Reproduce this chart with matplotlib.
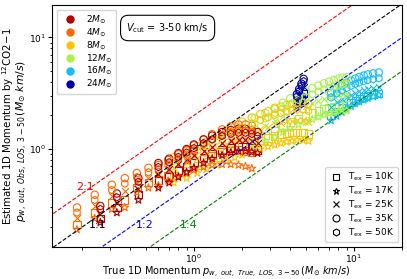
import numpy as np
import matplotlib.pyplot as plt
from matplotlib.lines import Line2D

# Tex order: 10K, 17K, 25K, 35K, 50K
tex_labels = ['10K', '17K', '25K', '35K', '50K']
tex_markers = ['s', '*', 'x', 'o', 'h']

mass_labels = ['2', '4', '8', '12', '16', '24']
mass_colors = ['#b00000', '#ff6a00', '#ffc400', '#a6f24a', '#14bdf5', '#0000a8']

x2 = [0.26, 0.33, 0.45, 0.60, 0.70, 0.80, 0.90, 1.00, 1.15, 1.30, 1.50, 1.70, 1.90, 2.10, 2.30, 2.50]
y2 = {'10K': [0.24, 0.30, 0.39, 0.52, 0.57, 0.64, 0.70, 0.76, 0.84, 0.91, 0.98, 1.02, 1.05, 1.05, 1.02, 0.98],
      '17K': [0.22, 0.27, 0.35, 0.45, 0.50, 0.56, 0.62, 0.68, 0.75, 0.82, 0.88, 0.93, 0.96, 0.96, 0.94, 0.92],
      '25K': [0.26, 0.33, 0.44, 0.60, 0.66, 0.74, 0.81, 0.88, 0.97, 1.05, 1.13, 1.18, 1.21, 1.21, 1.18, 1.13],
      '35K': [0.31, 0.40, 0.55, 0.75, 0.82, 0.92, 1.00, 1.10, 1.22, 1.32, 1.42, 1.48, 1.52, 1.52, 1.48, 1.42],
      '50K': [0.29, 0.37, 0.51, 0.69, 0.76, 0.85, 0.93, 1.02, 1.13, 1.22, 1.31, 1.37, 1.40, 1.40, 1.37, 1.31]}

x4 = [0.186, 0.24, 0.307, 0.37, 0.44, 0.52, 0.60, 0.69, 0.80, 0.90, 1.00, 1.15, 1.30, 1.50, 1.70, 1.90, 2.10, 2.30]
y4 = {'10K': [0.21, 0.27, 0.33, 0.35, 0.45, 0.50, 0.53, 0.58, 0.65, 0.70, 0.75, 0.82, 0.88, 0.94, 0.97, 0.98, 0.96, 0.93],
      '17K': [0.19, 0.24, 0.29, 0.30, 0.41, 0.45, 0.47, 0.52, 0.57, 0.61, 0.65, 0.69, 0.72, 0.73, 0.73, 0.72, 0.70, 0.67],
      '25K': [0.24, 0.31, 0.38, 0.42, 0.50, 0.55, 0.59, 0.65, 0.73, 0.79, 0.86, 0.96, 1.05, 1.14, 1.20, 1.23, 1.22, 1.18],
      '35K': [0.30, 0.39, 0.48, 0.55, 0.61, 0.68, 0.72, 0.80, 0.90, 0.98, 1.08, 1.22, 1.36, 1.50, 1.60, 1.66, 1.66, 1.62],
      '50K': [0.27, 0.35, 0.43, 0.49, 0.56, 0.62, 0.66, 0.73, 0.82, 0.89, 0.98, 1.10, 1.22, 1.34, 1.42, 1.47, 1.47, 1.43]}

x8 = [0.75, 0.90, 1.05, 1.20, 1.40, 1.60, 1.80, 2.00, 2.30, 2.60, 2.90, 3.20, 3.50, 3.80, 4.10, 4.40, 4.80, 5.20]
y8 = {'10K': [0.58, 0.64, 0.71, 0.77, 0.85, 0.92, 0.99, 1.06, 1.14, 1.20, 1.26, 1.31, 1.35, 1.38, 1.40, 1.41, 1.40, 1.36],
      '17K': [0.50, 0.55, 0.61, 0.66, 0.72, 0.78, 0.84, 0.89, 0.95, 1.00, 1.05, 1.09, 1.13, 1.16, 1.18, 1.20, 1.20, 1.18],
      '25K': [0.68, 0.76, 0.84, 0.92, 1.02, 1.12, 1.21, 1.31, 1.42, 1.51, 1.59, 1.66, 1.72, 1.77, 1.80, 1.83, 1.82, 1.76],
      '35K': [0.85, 0.96, 1.06, 1.17, 1.32, 1.46, 1.60, 1.76, 1.92, 2.06, 2.18, 2.30, 2.40, 2.48, 2.55, 2.60, 2.60, 2.52],
      '50K': [0.78, 0.88, 0.97, 1.06, 1.19, 1.31, 1.43, 1.56, 1.70, 1.82, 1.92, 2.02, 2.10, 2.17, 2.22, 2.26, 2.26, 2.19]}

x12 = [2.40, 2.80, 3.20, 3.60, 4.00, 4.50, 5.00, 5.50, 6.00, 6.50, 7.00, 7.50, 8.00, 8.50, 9.00]
y12 = {'10K': [1.20, 1.32, 1.47, 1.62, 1.75, 1.88, 1.99, 2.10, 2.20, 2.29, 2.36, 2.42, 2.47, 2.50, 2.50],
       '17K': [1.05, 1.15, 1.28, 1.42, 1.54, 1.65, 1.75, 1.85, 1.94, 2.02, 2.08, 2.13, 2.17, 2.20, 2.20],
       '25K': [1.45, 1.60, 1.78, 1.96, 2.13, 2.30, 2.44, 2.57, 2.70, 2.81, 2.90, 2.98, 3.05, 3.09, 3.10],
       '35K': [1.90, 2.10, 2.35, 2.60, 2.85, 3.10, 3.30, 3.50, 3.70, 3.88, 4.02, 4.15, 4.28, 4.36, 4.40],
       '50K': [1.70, 1.88, 2.10, 2.32, 2.53, 2.75, 2.92, 3.09, 3.26, 3.41, 3.53, 3.64, 3.74, 3.80, 3.83]}

x16 = [7.2, 7.8, 8.4, 9.0, 9.6, 10.2, 10.8, 11.5, 12.2, 13.2, 14.3]
y16 = {'10K': [2.00, 2.18, 2.34, 2.48, 2.60, 2.72, 2.82, 2.92, 3.00, 3.08, 3.15],
       '17K': [1.80, 1.98, 2.14, 2.28, 2.42, 2.55, 2.66, 2.76, 2.86, 2.95, 3.05],
       '25K': [2.40, 2.62, 2.80, 2.95, 3.08, 3.20, 3.30, 3.40, 3.48, 3.55, 3.62],
       '35K': [3.20, 3.50, 3.72, 3.92, 4.10, 4.28, 4.42, 4.55, 4.66, 4.76, 4.85],
       '50K': [2.90, 3.15, 3.35, 3.52, 3.68, 3.82, 3.94, 4.05, 4.14, 4.22, 4.30]}

x24 = [4.40, 4.55, 4.70, 4.85]
y24 = {'10K': [2.55, 2.75, 2.95, 3.15],
       '17K': [2.40, 2.55, 2.70, 2.85],
       '25K': [2.75, 3.00, 3.30, 3.60],
       '35K': [3.10, 3.45, 3.85, 4.25],
       '50K': [2.95, 3.30, 3.70, 4.05]}

ratios = [2.0, 1.0, 0.5, 0.25]
ratio_labels = ['2:1', '1:1', '1:2', '1:4']
ratio_colors = ['red', 'black', 'blue', 'green']
ratio_text_x = [0.209, 0.25, 0.49, 0.93]
ratio_text_y = [0.46, 0.21, 0.21, 0.21]

tracks = {'2': (x2, y2), '4': (x4, y4), '8': (x8, y8),
          '12': (x12, y12), '16': (x16, y16), '24': (x24, y24)}
draw_order = ['16', '12', '8', '4', '2', '24']

plt.rcParams['font.size'] = 7
fig = plt.figure(figsize=(4.07, 2.79), dpi=100)
ax = fig.add_axes([0.128, 0.115, 0.860, 0.867])

for tex, mk in zip(tex_labels, tex_markers):
    for m in draw_order:
        xs, ys = tracks[m]
        col = mass_colors[mass_labels.index(m)]
        if mk == 'x':
            ax.scatter(xs, ys[tex], s=24, marker=mk, color=col, linewidths=0.8)
        else:
            ax.scatter(xs, ys[tex], s=28 if mk != '*' else 34, marker=mk,
                       facecolors='none', edgecolors=col, linewidths=0.8)

line_x = np.array([0.1, 30])
for r, lab, c, tx, ty in zip(ratios, ratio_labels, ratio_colors, ratio_text_x, ratio_text_y):
    ax.plot(line_x, r * line_x, '--', color=c, lw=0.8)
    ax.text(tx, ty, lab, color=c, fontsize=8, ha='center', va='center')

ax.set_xscale('log')
ax.set_yscale('log')
ax.set_xlim(0.13, 20)
ax.set_ylim(0.133, 19.5)
ax.tick_params(which='major', labelsize=6.5, length=3, pad=1.5)
ax.tick_params(axis='x', which='major', pad=0.8)
ax.tick_params(which='minor', length=1.8)

ax.set_xlabel(r'True 1D Momentum $p_{w,\ out,\ True,\ LOS,\ 3-50}\,(M_{\odot}\ km/s)$',
              fontsize=7)
ax.xaxis.set_label_coords(0.499, -0.074)
fig.text(0.0197, 0.547, 'Estimated 1D Momentum by $^{12}$CO2$-$1', rotation=90,
         fontsize=7.4, ha='center', va='center')
fig.text(0.054, 0.494, r'$p_{w,\ out,\ Obs,\ LOS,\ 3-50}\,(M_{\odot}\ km/s)$', rotation=90,
         fontsize=7.8, ha='center', va='center')

ax.text(0.33, 0.905, r'$V_{\rm cut}$ = 3-50 km/s', transform=ax.transAxes, fontsize=7,
        ha='center', va='center',
        bbox=dict(boxstyle='round,pad=0.6,rounding_size=0.8', fc='white', ec='black', lw=0.8))

mass_handles = [Line2D([], [], marker='o', ls='none', color=c, markersize=5)
                for c in mass_colors]
leg1 = ax.legend(mass_handles, [m + r'$M_{\odot}$' for m in mass_labels],
                 loc='upper left', fontsize=6.5, handletextpad=0.7, labelspacing=0.05,
                 borderpad=0.4, handlelength=2.2, borderaxespad=0.5)
ax.add_artist(leg1)

tex_handles = [Line2D([], [], marker=mk, ls='none', mfc='none', mec='k', color='k',
                      markersize=5, mew=0.8) for mk in tex_markers]
ax.legend(tex_handles, [r'T$_{\rm ex}$ = ' + t for t in tex_labels],
          loc='lower right', fontsize=6.5, handletextpad=0.5, labelspacing=0.15,
          borderpad=0.4, handlelength=1.6, borderaxespad=0.5)

plt.savefig('out.png', dpi=100)
